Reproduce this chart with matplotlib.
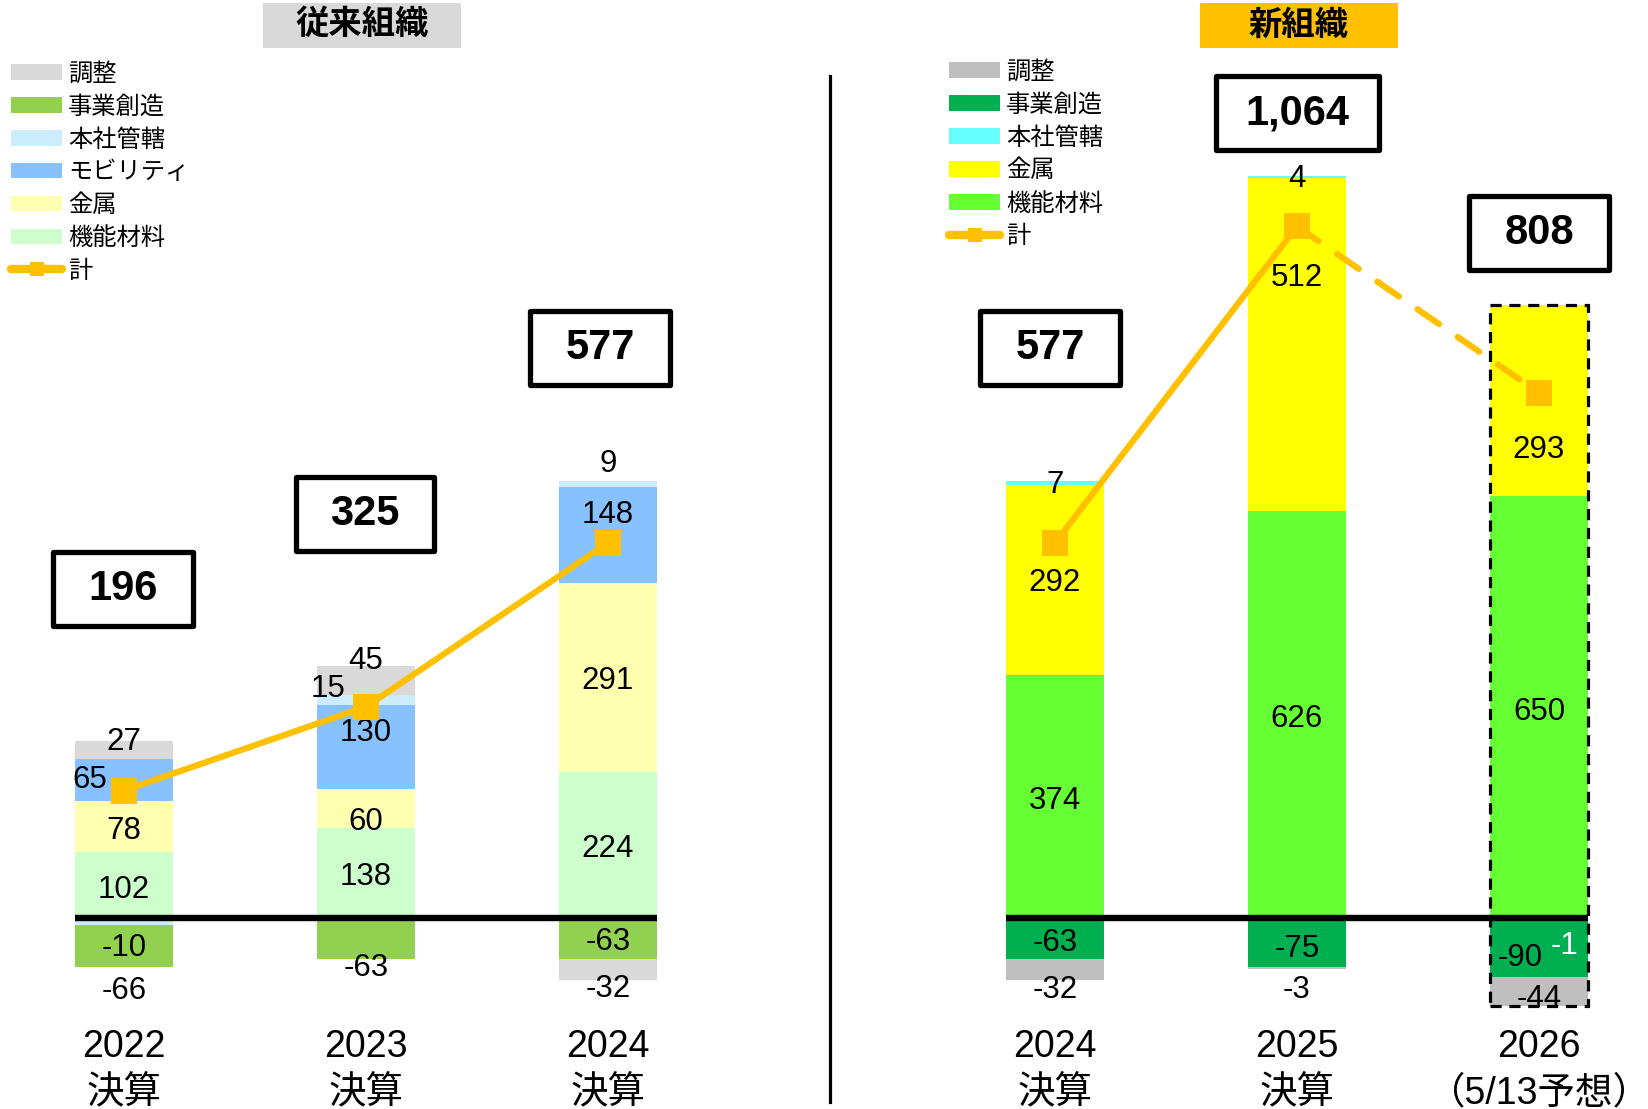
import matplotlib
matplotlib.use('Agg')
import matplotlib.pyplot as plt
from matplotlib.patches import Rectangle, Patch
from matplotlib.lines import Line2D
import numpy as np

plt.rcParams['font.family'] = ['Liberation Sans', 'Noto Sans CJK JP']

# ---------------- data ----------------
series_old = ['機能材料', '金属', 'モビリティ', '本社管轄', '事業創造', '調整']
old_years = ['2022\n決算', '2023\n決算', '2024\n決算']
old_kinou = [102, 138, 224]
old_kinzoku = [78, 60, 291]
old_mobility = [65, 130, 148]
old_honsha = [-10, 15, 9]
old_jigyo = [-66, -63, -63]
old_chosei = [27, 45, -32]
old_total = [196, 325, 577]

series_new = ['機能材料', '金属', '本社管轄', '事業創造', '調整']
new_years = ['2024\n決算', '2025\n決算', '2026\n（5/13予想）']
new_kinou = [374, 626, 650]
new_kinzoku = [292, 512, 293]
new_honsha = [7, 4, -1]
new_jigyo = [-63, -75, -90]
new_chosei = [-32, -3, -44]
new_total = [577, 1064, 808]

# ---------------- styles ----------------
old_colors = {'機能材料': '#CCFFCC', '金属': '#FFFFAF', 'モビリティ': '#87C1FF',
              '本社管轄': '#CCECFF', '事業創造': '#92D050', '調整': '#D9D9D9'}
new_colors = {'機能材料': '#66FF33', '金属': '#FFFF00', '本社管轄': '#66FFFF',
              '事業創造': '#00B050', '調整': '#BFBFBF'}
LINE_C = '#FFC000'

W, H = 1649, 1109
PX_X = 242.0      # pixels per x unit
PX_Y = 0.65       # pixels per value unit
BASE = 918        # pixel row of zero
AX_BOTTOM = 1022  # pixel row of axes bottom
BAR_W = 0.405
LABEL_FS = 22.5

# label offsets (dx, dy) in pixels relative to segment centre (dy down positive)
old_off = {
    '機能材料': [(0, 5), (0, 4), (0, 4)],
    '金属': [(0, 5), (0, 13), (0, 3)],
    'モビリティ': [(-34, 0), (0, -14), (0, -20)],
    '本社管轄': [(0, 27), (-38, -11), (0, -20)],
    '事業創造': [(0, 45), (0, 30), (0, 4)],
    '調整': [(0, -8), (0, -19), (0, 20)],
}
new_off = {
    '機能材料': [(0, 5), (0, 4), (0, 5)],
    '金属': [(0, 3), (0, -67), (0, 50)],
    '本社管轄': [(0, 2), (0, 2), (25, 28)],
    '事業創造': [(0, 5), (0, 7), (-19, 10)],
    '調整': [(0, 21), (0, 22), (0, 8)],
}
old_box = [(-1, -202), (-1, -193), (-8, -195)]
new_box = [(-5, -195), (0, -113), (0, -160)]
new_box_w = [140, 163, 140]
old_box_w = [140, 138, 140]

fig = plt.figure(figsize=(W / 100, H / 100), dpi=100)
b = (H - AX_BOTTOM) / H
h = AX_BOTTOM / H
ymin = -(AX_BOTTOM - BASE) / PX_Y
ymax = BASE / PX_Y

ax1 = fig.add_axes([0, b, 830 / W, h])
ax2 = fig.add_axes([830 / W, b, (W - 830) / W, h])
ax1.set_xlim(-124 / PX_X, (830 - 124) / PX_X)
ax2.set_xlim((830 - 1055) / PX_X, (W - 1055) / PX_X)
for ax in (ax1, ax2):
    ax.set_ylim(ymin, ymax)
    for s in ax.spines.values():
        s.set_visible(False)
    ax.set_yticks([])


def draw_panel(ax, names, values, colors, offsets, totals, years, boxes, box_w,
               dashed_last=False):
    x = np.arange(len(years))
    pos = np.zeros(len(x))
    neg = np.zeros(len(x))
    for name, vals in zip(names, values):
        vals = np.array(vals, dtype=float)
        bot = np.where(vals >= 0, pos, neg)
        ax.bar(x, vals, bottom=bot, width=BAR_W, color=colors[name],
               edgecolor='none', zorder=2)
        for j, v in enumerate(vals):
            cx = x[j] + offsets[name][j][0] / PX_X
            cy = bot[j] + v / 2 - offsets[name][j][1] / PX_Y
            col = 'white' if (dashed_last and name == '本社管轄' and j == 2) else 'black'
            ax.text(cx, cy, f'{int(v)}', ha='center', va='center', fontsize=LABEL_FS,
                    color=col, zorder=5)
        pos = pos + np.where(vals >= 0, vals, 0)
        neg = neg + np.where(vals < 0, vals, 0)
    # zero line
    ax.plot([x[0] - BAR_W / 2, x[-1] + BAR_W / 2], [0, 0], color='black',
            lw=4.6, zorder=4, solid_capstyle='butt')
    # total line
    if dashed_last:
        ax.plot(x[:2], totals[:2], color=LINE_C, lw=4.5, zorder=6,
                solid_capstyle='round')
        ax.plot(x[1:], totals[1:], color=LINE_C, lw=4.5, zorder=6,
                dashes=(4.2, 3.6), dash_capstyle='round')
        ax.plot(x, totals, ls='none', marker='s', ms=18.5, mew=0,
                color=LINE_C, zorder=7)
        ax.add_patch(Rectangle((x[-1] - BAR_W / 2, neg[-1]), BAR_W, pos[-1] - neg[-1],
                               fill=False, ec='black', lw=2.3,
                               ls=(0, (3.5, 2.4)), zorder=8))
    else:
        ax.plot(x, totals, color=LINE_C, lw=4.5, marker='s', ms=18.5, mew=0,
                zorder=6, solid_capstyle='round')
    # total boxes
    for j, t in enumerate(totals):
        bw = box_w[j] / PX_X
        bh = 74 / PX_Y
        cx = x[j] + boxes[j][0] / PX_X
        cy = t - boxes[j][1] / PX_Y
        ax.add_patch(Rectangle((cx - bw / 2, cy - bh / 2), bw, bh, fc='white',
                               ec='black', lw=3.8, zorder=9, joinstyle='round'))
        ax.text(cx, cy, f'{t:,}', ha='center', va='center', fontsize=30,
                fontweight='bold', zorder=10)
    ax.set_xticks(x, years, fontsize=27, linespacing=1.38)
    ax.tick_params(axis='x', length=0, pad=5)


draw_panel(ax1, series_old,
           [old_kinou, old_kinzoku, old_mobility, old_honsha, old_jigyo, old_chosei],
           old_colors, old_off, old_total, old_years, old_box, old_box_w)
draw_panel(ax2, series_new,
           [new_kinou, new_kinzoku, new_honsha, new_jigyo, new_chosei],
           new_colors, new_off, new_total, new_years, new_box, new_box_w,
           dashed_last=True)

# divider
fig.add_artist(Line2D([830 / W, 830 / W], [1 - 76 / H, 1 - 1102 / H], color='black',
                      lw=2.3, transform=fig.transFigure))

# headers
def header(x0, x1, y0, y1, fc, text):
    fig.add_artist(Rectangle((x0 / W, 1 - y1 / H), (x1 - x0) / W, (y1 - y0) / H,
                             fc=fc, ec='none', transform=fig.transFigure))
    fig.text((x0 + x1) / 2 / W, 1 - (y0 + y1) / 2 / H, text, ha='center',
             va='center', fontsize=24, fontweight='bold')

header(263, 461, 3, 48, '#D9D9D9', '従来組織')
header(1200, 1398, 3, 48, '#FFC000', '新組織')

# legends
def legend(ax, names, colors, x0, y0):
    handles = [Patch(fc=colors[n], ec='none') for n in names]
    handles.append(Line2D([], [], color=LINE_C, lw=6, marker='s', ms=10, mew=0,
                          solid_capstyle='round'))
    leg = ax.legend(handles, names + ['計'], loc='upper left',
                    bbox_to_anchor=(x0 / W, 1 - y0 / H),
                    bbox_transform=fig.transFigure, frameon=False, fontsize=17.5,
                    handlelength=2.1, handleheight=0.6, handletextpad=0.25,
                    labelspacing=0.42, borderpad=0, borderaxespad=0)
    leg.set_zorder(20)

legend(ax1, ['調整', '事業創造', '本社管轄', 'モビリティ', '金属', '機能材料'], old_colors,
       11, 63)
legend(ax2, ['調整', '事業創造', '本社管轄', '金属', '機能材料'], new_colors, 949, 61)

fig.savefig('out.png', dpi=100)
